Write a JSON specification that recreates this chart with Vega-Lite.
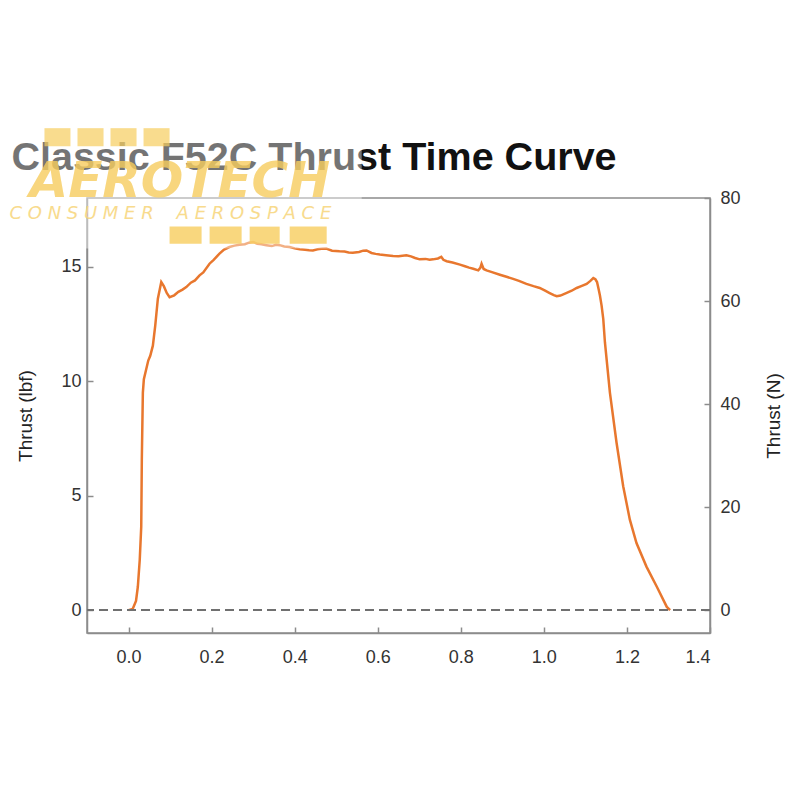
{
  "$schema": "https://vega.github.io/schema/vega-lite/v6.json",
  "autosize": "none",
  "width": 623,
  "height": 435,
  "padding": {"left": 87, "top": 198, "right": 90, "bottom": 167},
  "background": "white",
  "config": {
    "view": {"stroke": "#8c8c8c", "strokeWidth": 1.5},
    "axis": {
      "labelFont": "Liberation Sans",
      "labelFontSize": 18,
      "labelColor": "#333333",
      "titleFont": "Liberation Sans",
      "titleFontSize": 19,
      "titleFontWeight": "normal",
      "titleColor": "#222222",
      "domainColor": "#8c8c8c",
      "domainWidth": 1.5,
      "tickColor": "#8c8c8c",
      "tickWidth": 1.5,
      "tickSize": -6,
      "grid": false
    }
  },
  "data": {"values": [
    {"t": 0, "lbf": 0}, {"t": 0.01, "lbf": 0.05}, {"t": 0.018, "lbf": 0.4}, {"t": 0.0224, "lbf": 1.02},
    {"t": 0.027, "lbf": 2.2}, {"t": 0.0306, "lbf": 3.65}, {"t": 0.032, "lbf": 6.58}, {"t": 0.0345, "lbf": 9.5},
    {"t": 0.0369, "lbf": 10.09}, {"t": 0.0427, "lbf": 10.53}, {"t": 0.0475, "lbf": 10.9}, {"t": 0.0523, "lbf": 11.11},
    {"t": 0.0586, "lbf": 11.55}, {"t": 0.0643, "lbf": 12.43}, {"t": 0.0706, "lbf": 13.6}, {"t": 0.0788, "lbf": 14.33},
    {"t": 0.085, "lbf": 14.15}, {"t": 0.092, "lbf": 13.85}, {"t": 0.0988, "lbf": 13.67}, {"t": 0.11, "lbf": 13.75},
    {"t": 0.12, "lbf": 13.9}, {"t": 0.13, "lbf": 14.0}, {"t": 0.139, "lbf": 14.11}, {"t": 0.15, "lbf": 14.3},
    {"t": 0.16, "lbf": 14.4}, {"t": 0.171, "lbf": 14.62}, {"t": 0.18, "lbf": 14.75}, {"t": 0.195, "lbf": 15.13},
    {"t": 0.205, "lbf": 15.3}, {"t": 0.219, "lbf": 15.57}, {"t": 0.23, "lbf": 15.75}, {"t": 0.243, "lbf": 15.86},
    {"t": 0.255, "lbf": 15.92}, {"t": 0.267, "lbf": 15.96}, {"t": 0.28, "lbf": 15.98}, {"t": 0.29, "lbf": 16.05},
    {"t": 0.3, "lbf": 16.08}, {"t": 0.31, "lbf": 16.0}, {"t": 0.32, "lbf": 15.98}, {"t": 0.332, "lbf": 15.94},
    {"t": 0.345, "lbf": 15.9}, {"t": 0.355, "lbf": 15.96}, {"t": 0.364, "lbf": 15.94}, {"t": 0.375, "lbf": 15.88},
    {"t": 0.388, "lbf": 15.86}, {"t": 0.4, "lbf": 15.8}, {"t": 0.412, "lbf": 15.76}, {"t": 0.425, "lbf": 15.74},
    {"t": 0.435, "lbf": 15.72}, {"t": 0.444, "lbf": 15.71}, {"t": 0.455, "lbf": 15.76}, {"t": 0.465, "lbf": 15.78},
    {"t": 0.476, "lbf": 15.79}, {"t": 0.49, "lbf": 15.7}, {"t": 0.508, "lbf": 15.67}, {"t": 0.52, "lbf": 15.66},
    {"t": 0.53, "lbf": 15.62}, {"t": 0.54, "lbf": 15.61}, {"t": 0.555, "lbf": 15.64}, {"t": 0.565, "lbf": 15.7},
    {"t": 0.573, "lbf": 15.71}, {"t": 0.585, "lbf": 15.6}, {"t": 0.595, "lbf": 15.56}, {"t": 0.605, "lbf": 15.53},
    {"t": 0.62, "lbf": 15.5}, {"t": 0.637, "lbf": 15.47}, {"t": 0.65, "lbf": 15.46}, {"t": 0.669, "lbf": 15.5},
    {"t": 0.68, "lbf": 15.45}, {"t": 0.69, "lbf": 15.38}, {"t": 0.701, "lbf": 15.32}, {"t": 0.715, "lbf": 15.34},
    {"t": 0.725, "lbf": 15.3}, {"t": 0.733, "lbf": 15.32}, {"t": 0.745, "lbf": 15.36}, {"t": 0.753, "lbf": 15.43},
    {"t": 0.758, "lbf": 15.3}, {"t": 0.766, "lbf": 15.24}, {"t": 0.78, "lbf": 15.18}, {"t": 0.798, "lbf": 15.09},
    {"t": 0.81, "lbf": 15.02}, {"t": 0.82, "lbf": 14.96}, {"t": 0.83, "lbf": 14.91}, {"t": 0.842, "lbf": 14.84},
    {"t": 0.847, "lbf": 14.95}, {"t": 0.85, "lbf": 15.13}, {"t": 0.855, "lbf": 14.9}, {"t": 0.862, "lbf": 14.84},
    {"t": 0.875, "lbf": 14.76}, {"t": 0.894, "lbf": 14.65}, {"t": 0.91, "lbf": 14.56}, {"t": 0.926, "lbf": 14.47},
    {"t": 0.94, "lbf": 14.38}, {"t": 0.958, "lbf": 14.25}, {"t": 0.975, "lbf": 14.15}, {"t": 0.99, "lbf": 14.07},
    {"t": 1.003, "lbf": 13.95}, {"t": 1.014, "lbf": 13.85}, {"t": 1.024, "lbf": 13.76}, {"t": 1.031, "lbf": 13.71},
    {"t": 1.04, "lbf": 13.74}, {"t": 1.055, "lbf": 13.86}, {"t": 1.067, "lbf": 13.95}, {"t": 1.079, "lbf": 14.07},
    {"t": 1.09, "lbf": 14.15}, {"t": 1.103, "lbf": 14.25}, {"t": 1.112, "lbf": 14.38}, {"t": 1.119, "lbf": 14.5},
    {"t": 1.124, "lbf": 14.45}, {"t": 1.128, "lbf": 14.33}, {"t": 1.132, "lbf": 14.0}, {"t": 1.135, "lbf": 13.74},
    {"t": 1.139, "lbf": 13.3}, {"t": 1.143, "lbf": 12.72}, {"t": 1.147, "lbf": 11.7}, {"t": 1.159, "lbf": 9.5},
    {"t": 1.175, "lbf": 7.31}, {"t": 1.191, "lbf": 5.41}, {"t": 1.207, "lbf": 3.95}, {"t": 1.223, "lbf": 2.93},
    {"t": 1.247, "lbf": 1.9}, {"t": 1.272, "lbf": 1.02}, {"t": 1.296, "lbf": 0.14}, {"t": 1.304, "lbf": 0}
  ]},
  "layer": [
    {
      "layer": [
        {
          "mark": {"type": "line", "color": "#e8772e", "strokeWidth": 2.5},
          "encoding": {
            "x": {"field": "t", "type": "quantitative",
                  "scale": {"domain": [-0.1, 1.4], "nice": false, "zero": false},
                  "axis": {"values": [0, 0.2, 0.4, 0.6, 0.8, 1.0, 1.2, 1.4], "format": ".1f", "title": null, "labelPadding": 21}},
            "y": {"field": "lbf", "type": "quantitative",
                  "scale": {"domain": [-1, 18], "nice": false, "zero": false},
                  "axis": {"values": [0, 5, 10, 15], "format": "d", "title": "Thrust (lbf)", "labelPadding": 12, "titlePadding": 25}}
          }
        },
        {
          "mark": {"type": "rule", "color": "#707070", "strokeWidth": 2, "strokeDash": [9, 5]},
          "data": {"values": [{}]},
          "encoding": {"y": {"datum": 0, "type": "quantitative"}}
        },
        {
          "data": {"values": [{}]},
          "mark": {"type": "text", "text": "Classic F52C Thrust Time Curve", "font": "Liberation Sans", "fontWeight": "bold", "fontSize": 39.5, "align": "left", "baseline": "alphabetic", "color": "#111111"},
          "encoding": {"x": {"datum": -0.282, "type": "quantitative"}, "y": {"datum": 19.21, "type": "quantitative"}}
        },
        {
          "data": {"values": [{}]},
          "mark": {"type": "rect", "color": "white", "opacity": 0.42},
          "encoding": {
            "x": {"datum": -0.311, "type": "quantitative"}, "x2": {"datum": 0.5614},
            "y": {"datum": 21.58, "type": "quantitative"}, "y2": {"datum": 15.79}
          }
        },
        {
          "data": {"values": [{}]},
          "mark": {"type": "text", "text": "AEROTECH", "font": "DejaVu Sans", "fontWeight": "bold", "fontStyle": "italic", "fontSize": 50, "align": "left", "baseline": "alphabetic", "color": "#f7cd5e", "opacity": 0.8},
          "encoding": {"x": {"datum": -0.2386, "type": "quantitative"}, "y": {"datum": 18.05, "type": "quantitative"}}
        },
        {
          "data": {"values": [{}]},
          "mark": {"type": "text", "text": "C O N S U M E R \u00a0 \u00a0A E R O S P A C E", "font": "DejaVu Sans", "fontStyle": "italic", "fontSize": 18, "align": "left", "baseline": "alphabetic", "color": "#f7d57a", "opacity": 0.85},
          "encoding": {"x": {"datum": -0.2867, "type": "quantitative"}, "y": {"datum": 17.1, "type": "quantitative"}}
        },
        {"data": {"values": [{}]}, "mark": {"type": "rect", "color": "#f7cd5e", "opacity": 0.8},
         "encoding": {"x": {"datum": 0.0988, "type": "quantitative"}, "x2": {"datum": 0.1759}, "y": {"datum": 16.75, "type": "quantitative"}, "y2": {"datum": 16.0}}},
        {"data": {"values": [{}]}, "mark": {"type": "rect", "color": "#f7cd5e", "opacity": 0.8},
         "encoding": {"x": {"datum": 0.1952, "type": "quantitative"}, "x2": {"datum": 0.2723}, "y": {"datum": 16.75, "type": "quantitative"}, "y2": {"datum": 16.0}}},
        {"data": {"values": [{}]}, "mark": {"type": "rect", "color": "#f7cd5e", "opacity": 0.8},
         "encoding": {"x": {"datum": 0.2916, "type": "quantitative"}, "x2": {"datum": 0.3639}, "y": {"datum": 16.75, "type": "quantitative"}, "y2": {"datum": 16.0}}},
        {"data": {"values": [{}]}, "mark": {"type": "rect", "color": "#f7cd5e", "opacity": 0.8},
         "encoding": {"x": {"datum": 0.3880, "type": "quantitative"}, "x2": {"datum": 0.4771}, "y": {"datum": 16.75, "type": "quantitative"}, "y2": {"datum": 16.0}}},
        {"data": {"values": [{}]}, "mark": {"type": "rect", "color": "#f7cd5e", "opacity": 0.7},
         "encoding": {"x": {"datum": -0.2024, "type": "quantitative"}, "x2": {"datum": -0.1398}, "y": {"datum": 21.05, "type": "quantitative"}, "y2": {"datum": 20.26}}},
        {"data": {"values": [{}]}, "mark": {"type": "rect", "color": "#f7cd5e", "opacity": 0.7},
         "encoding": {"x": {"datum": -0.1229, "type": "quantitative"}, "x2": {"datum": -0.0602}, "y": {"datum": 21.05, "type": "quantitative"}, "y2": {"datum": 20.26}}},
        {"data": {"values": [{}]}, "mark": {"type": "rect", "color": "#f7cd5e", "opacity": 0.7},
         "encoding": {"x": {"datum": -0.0434, "type": "quantitative"}, "x2": {"datum": 0.0193}, "y": {"datum": 21.05, "type": "quantitative"}, "y2": {"datum": 20.26}}},
        {"data": {"values": [{}]}, "mark": {"type": "rect", "color": "#f7cd5e", "opacity": 0.7},
         "encoding": {"x": {"datum": 0.0361, "type": "quantitative"}, "x2": {"datum": 0.0988}, "y": {"datum": 21.05, "type": "quantitative"}, "y2": {"datum": 20.26}}}
      ]
    },
    {
      "data": {"values": [{}]},
      "mark": {"type": "rule", "opacity": 0},
      "encoding": {
        "y": {"datum": 0, "type": "quantitative",
              "scale": {"domain": [-4.448, 80.06], "nice": false, "zero": false},
              "axis": {"orient": "right", "values": [0, 20, 40, 60, 80], "format": "d", "title": "Thrust (N)", "titleAngle": 270, "titleBaseline": "top", "labelPadding": 16, "titlePadding": 24}}
      }
    }
  ],
  "resolve": {"scale": {"y": "independent"}}
}
